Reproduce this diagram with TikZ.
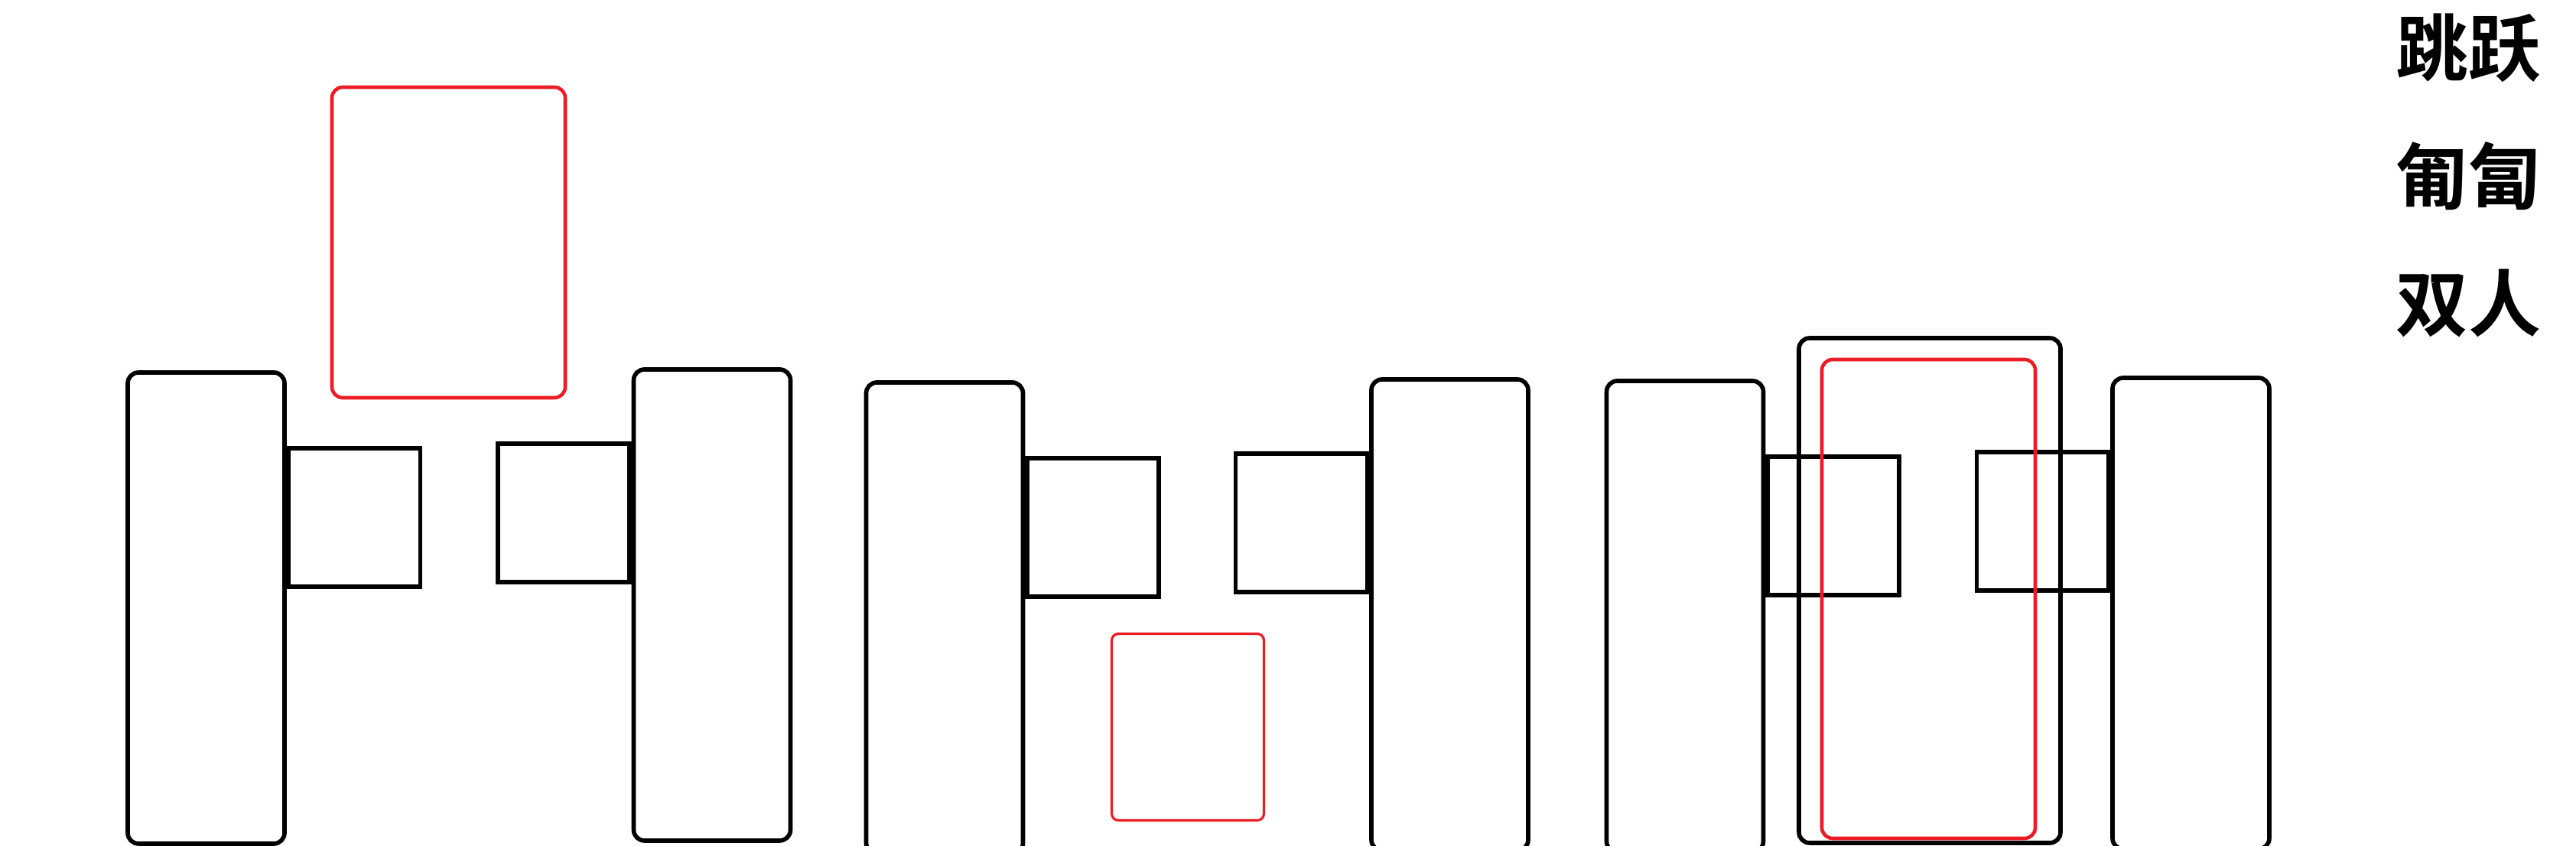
\documentclass[tikz,border=0pt]{standalone}
\usepackage{fontspec}
\newfontfamily\cjk{Noto Sans CJK SC}[BoldFont={Noto Sans CJK SC Bold}]
\usetikzlibrary{positioning}
\definecolor{boxred}{HTML}{ED1C24}

\begin{document}
\begin{tikzpicture}[
  tall/.style={draw, line width=1.6pt, rounded corners=4pt,
               minimum width=2.05cm, minimum height=6.16cm, inner sep=0pt},
  sq/.style={draw, line width=1.6pt, minimum width=1.72cm,
             minimum height=1.81cm, inner sep=0pt},
  zone/.style={draw=boxred, line width=1.3pt, rounded corners=4pt, inner sep=0pt},
  lbl/.style={font=\cjk\bfseries\fontsize{27}{27}\selectfont, inner sep=0pt}
]
  \useasboundingbox (0,0) rectangle (33.68,11.06);

  % first pair
  \node[tall] (boxa) at (2.695,3.11) {};
  \node[tall] (boxb) at (9.31,3.15) {};
  \node[sq, anchor=north west] (a1) at ([yshift=-0.99cm]boxa.north east) {};
  \node[sq, anchor=north east] (a2) at ([yshift=-0.97cm]boxb.north west) {};
  \node[zone, minimum width=3.05cm, minimum height=4.06cm] (zonea) at (5.865,7.89) {};

  % second pair
  \node[tall] (boxc) at (12.35,2.98) {};
  \node[tall] (boxd) at (18.955,3.02) {};
  \node[sq, anchor=north west] (c1) at ([yshift=-0.99cm]boxc.north east) {};
  \node[sq, anchor=north east] (c2) at ([yshift=-0.97cm]boxd.north west) {};
  \node[zone, line width=0.9pt, rounded corners=2.5pt,
        minimum width=1.99cm, minimum height=2.44cm] (zonec) at (15.53,1.555) {};

  % third pair
  \node[tall] (boxe) at (22.03,3.0) {};
  \node[tall] (boxf) at (28.645,3.04) {};
  \node[sq, anchor=north west] (e1) at ([yshift=-0.99cm]boxe.north east) {};
  \node[sq, anchor=north east] (e2) at ([yshift=-0.97cm]boxf.north west) {};
  \node[draw, line width=1.6pt, rounded corners=4pt, inner sep=0pt,
        minimum width=3.42cm, minimum height=6.6cm] (frame) at (25.23,3.34) {};
  \node[zone, minimum width=2.79cm, minimum height=6.26cm] (zonee) at (25.215,3.23) {};

  % labels
  \node[lbl] (jump) at (32.27,10.43) {跳跃};
  \node[lbl, below=0.76cm of jump] (crawl) {匍匐};
  \node[lbl, below=0.76cm of crawl] (pair) {双人};
\end{tikzpicture}
\end{document}
